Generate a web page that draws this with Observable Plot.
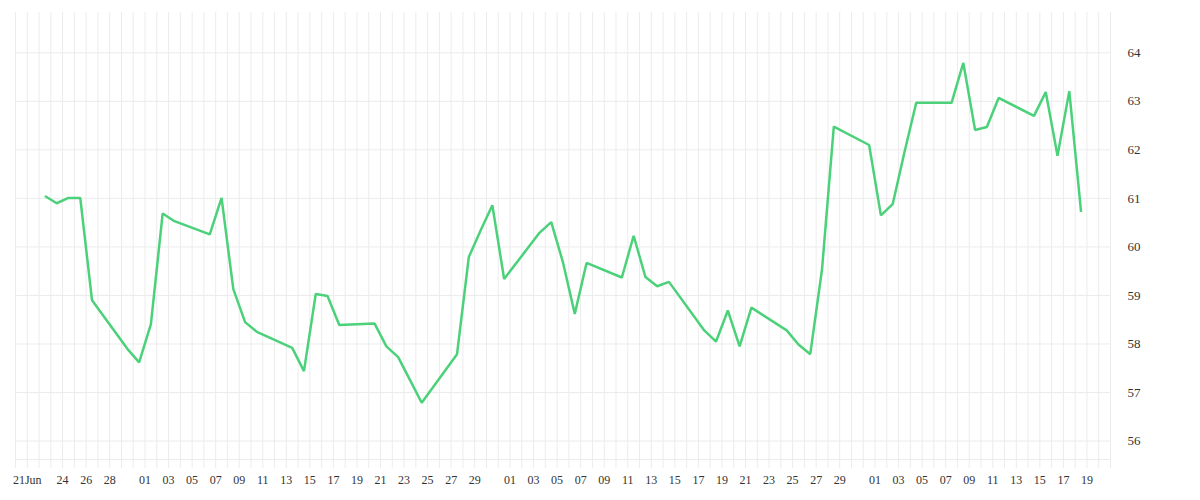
<!DOCTYPE html>
<html>
<head>
<meta charset="utf-8">
<script src="https://cdn.jsdelivr.net/npm/d3@7"></script>
<script src="https://cdn.jsdelivr.net/npm/@observablehq/plot@0.6"></script>
<style>
  html, body { margin: 0; padding: 0; background: #ffffff; }
  #chart svg { display: block; }
</style>
</head>
<body>
<div id="chart"></div>
<script>
// Trading days (2020) and closing values
const tradeDates = [
  "2020-06-22","2020-06-23","2020-06-24","2020-06-25","2020-06-26",
  "2020-06-29","2020-06-30","2020-07-01","2020-07-02","2020-07-03",
  "2020-07-06","2020-07-07","2020-07-08","2020-07-09","2020-07-10",
  "2020-07-13","2020-07-14","2020-07-15","2020-07-16","2020-07-17",
  "2020-07-20","2020-07-21","2020-07-22","2020-07-23","2020-07-24",
  "2020-07-27","2020-07-28","2020-07-29","2020-07-30","2020-07-31",
  "2020-08-03","2020-08-04","2020-08-05","2020-08-06","2020-08-07",
  "2020-08-10","2020-08-11","2020-08-12","2020-08-13","2020-08-14",
  "2020-08-17","2020-08-18","2020-08-19","2020-08-20","2020-08-21",
  "2020-08-24","2020-08-25","2020-08-26","2020-08-27","2020-08-28",
  "2020-08-31","2020-09-01","2020-09-02","2020-09-03","2020-09-04",
  "2020-09-07","2020-09-08","2020-09-09","2020-09-10","2020-09-11",
  "2020-09-14","2020-09-15","2020-09-16","2020-09-17","2020-09-18"
];
const closeValues = [
  61.05, 60.90, 61.01, 61.01, 58.90,
  57.90, 57.62, 58.41, 60.69, 60.53,
  60.26, 61.01, 59.13, 58.45, 58.25,
  57.92, 57.44, 59.03, 58.99, 58.39,
  58.42, 57.95, 57.73, 57.26, 56.79,
  57.79, 59.79, 60.34, 60.86, 59.34,
  60.29, 60.51, 59.68, 58.62, 59.67,
  59.37, 60.23, 59.38, 59.19, 59.28,
  58.28, 58.05, 58.69, 57.95, 58.75,
  58.28, 57.99, 57.79, 59.54, 62.48,
  62.10, 60.65, 60.88, 61.95, 62.97,
  62.97, 63.79, 62.41, 62.47, 63.07,
  62.70, 63.19, 61.88, 63.21, 60.72
];

// X tick labels
const xTickDates = [
  "2020-06-21","2020-06-24","2020-06-26","2020-06-28",
  "2020-07-01","2020-07-03","2020-07-05","2020-07-07","2020-07-09","2020-07-11","2020-07-13","2020-07-15",
  "2020-07-17","2020-07-19","2020-07-21","2020-07-23","2020-07-25","2020-07-27","2020-07-29",
  "2020-08-01","2020-08-03","2020-08-05","2020-08-07","2020-08-09","2020-08-11","2020-08-13","2020-08-15",
  "2020-08-17","2020-08-19","2020-08-21","2020-08-23","2020-08-25","2020-08-27","2020-08-29",
  "2020-09-01","2020-09-03","2020-09-05","2020-09-07","2020-09-09","2020-09-11","2020-09-13","2020-09-15",
  "2020-09-17","2020-09-19"
];
const xTickLabels = [
  "21Jun","24","26","28",
  "01","03","05","07","09","11","13","15","17","19","21","23","25","27","29",
  "01","03","05","07","09","11","13","15","17","19","21","23","25","27","29",
  "01","03","05","07","09","11","13","15","17","19"
];

// Y ticks
const yTicks = [56, 57, 58, 59, 60, 61, 62, 63, 64];

const xDomain = ["2020-06-20", "2020-09-21"];
const yDomain = [55.62, 64.83];

const parseDay = s => new Date(s + "T00:00:00Z");
// each trading value is stamped at mid-day
const series = tradeDates.map((d, i) => ({
  date: d3.utcHour.offset(parseDay(d), 12),
  value: closeValues[i]
}));
const xTickTable = xTickDates.map((d, i) => ({date: parseDay(d), label: xTickLabels[i]}));
const dayLines = d3.utcDays(parseDay(xDomain[0]), d3.utcDay.offset(parseDay(xDomain[1]), 1));

const gridColor = "#ececec";
const textColor = "#333333";

const chart = Plot.plot({
  width: 1200,
  height: 500,
  marginLeft: 15,
  marginRight: 90,
  marginTop: 12,
  marginBottom: 41,
  style: {background: "#ffffff", overflow: "visible"},
  x: {type: "utc", domain: xDomain.map(parseDay), axis: null},
  y: {domain: yDomain, axis: null},
  marks: [
    Plot.ruleX(dayLines, {stroke: gridColor, strokeWidth: 1, insetBottom: -9}),
    Plot.ruleY(yTicks, {stroke: gridColor, strokeWidth: 1}),
    Plot.ruleY([yDomain[0]], {stroke: gridColor, strokeWidth: 1}),
    Plot.lineY(series, {
      x: "date", y: "value",
      stroke: "#4cd17b", strokeWidth: 2.5,
      strokeLinejoin: "miter", strokeLinecap: "butt"
    }),
    Plot.text(xTickTable, {
      x: "date", text: "label",
      frameAnchor: "bottom", dy: 24,
      fill: textColor, fontSize: 12,
      fontFamily: "Liberation Serif, serif"
    }),
    Plot.text(yTicks, {
      y: d => d, text: d => String(d),
      frameAnchor: "right", textAnchor: "start", dx: 17,
      fill: textColor, fontSize: 13,
      fontFamily: "Liberation Serif, serif"
    })
  ]
});

document.getElementById("chart").appendChild(chart);
</script>
</body>
</html>
